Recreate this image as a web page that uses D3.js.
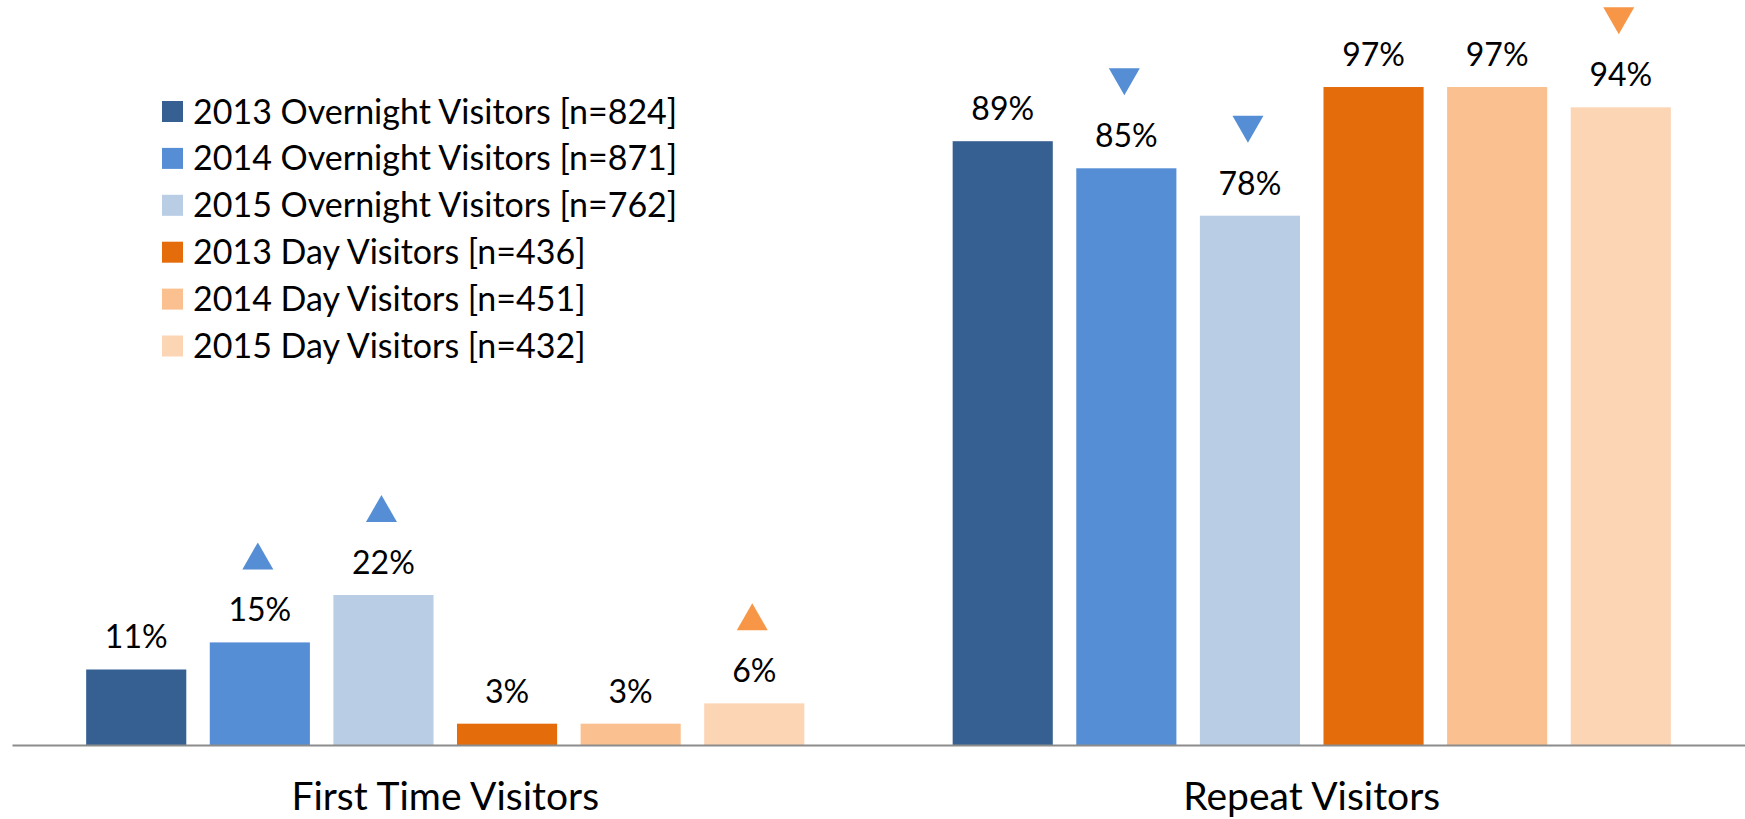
<!DOCTYPE html>
<html>
<head>
<meta charset="utf-8">
<script src="https://cdn.jsdelivr.net/npm/d3@7/dist/d3.min.js"></script>
<style>
  html, body { margin: 0; padding: 0; background: #ffffff; }
  svg { display: block; }
  text { font-family: Lato, "Open Sans", sans-serif; fill: #000; }
</style>
</head>
<body>
<svg id="chart" width="1745" height="819"></svg>
<script>
// Visitor type categories
const categories = ["First Time Visitors", "Repeat Visitors"];

// Survey groups (legend labels)
const seriesNames = [
  "2013 Overnight Visitors [n=824]",
  "2014 Overnight Visitors [n=871]",
  "2015 Overnight Visitors [n=762]",
  "2013 Day Visitors [n=436]",
  "2014 Day Visitors [n=451]",
  "2015 Day Visitors [n=432]"
];

// Share of visitors (%) per group
const firstTimeValues = [11, 15, 22, 3, 3, 6];
const repeatValues = [89, 85, 78, 97, 97, 94];

// Significant change markers versus the 2013 baseline
const firstTimeChange = [null, "up", "up", null, null, "up"];
const repeatChange = [null, "down", "down", null, null, "down"];

const seriesColors = ["#376092", "#558ED5", "#B9CDE5", "#E46C0A", "#FAC090", "#FCD5B5"];
const markerColors = ["#558ED5", "#558ED5", "#558ED5", "#F79646", "#F79646", "#F79646"];

const valuesByCategory = [firstTimeValues, repeatValues];
const changeByCategory = [firstTimeChange, repeatChange];

const data = categories.map((c, ci) => ({
  category: c,
  bars: seriesNames.map((s, si) => ({
    series: si,
    value: valuesByCategory[ci][si],
    change: changeByCategory[ci][si]
  }))
}));

const svg = d3.select("#chart");
const width = 1745, height = 819;
const margin = { left: 12, right: 0, baseline: 744 };

const x0 = d3.scaleBand()
  .domain(categories)
  .range([margin.left, width - margin.right])
  .paddingInner(0)
  .paddingOuter(0);

const x1 = d3.scaleBand()
  .domain(d3.range(seriesNames.length))
  .range([0, x0.bandwidth()])
  .paddingInner(0.19)
  .paddingOuter(0.6);

const y = d3.scaleLinear()
  .domain([0, 100])
  .range([margin.baseline, 66.7]);

// Bars
const groups = svg.append("g")
  .selectAll("g")
  .data(data)
  .join("g")
  .attr("transform", d => `translate(${x0(d.category)},0)`);

groups.selectAll("rect")
  .data(d => d.bars)
  .join("rect")
  .attr("x", d => x1(d.series))
  .attr("y", d => y(d.value))
  .attr("width", x1.bandwidth())
  .attr("height", d => y(0) - y(d.value) + 1)
  .attr("fill", d => seriesColors[d.series]);

// Value labels
const labelGap = 21;
groups.selectAll("text.value")
  .data(d => d.bars)
  .join("text")
  .attr("class", "value")
  .attr("x", d => x1(d.series) + x1.bandwidth() / 2)
  .attr("y", d => y(d.value) - labelGap)
  .attr("text-anchor", "middle")
  .style("font-size", "32px")
  .text(d => d3.format(".0%")(d.value / 100));

// Change markers (equilateral triangles above the labels)
const triW = 31, triH = 27, triGap = 52;
groups.selectAll("path.marker")
  .data(d => d.bars.filter(b => b.change))
  .join("path")
  .attr("class", "marker")
  .attr("fill", d => markerColors[d.series])
  .attr("d", d => {
    const cx = x1(d.series) + x1.bandwidth() / 2 - 2;
    const bottom = y(d.value) - labelGap - triGap;
    const top = bottom - triH;
    if (d.change === "up") {
      return `M${cx - triW / 2},${bottom}L${cx + triW / 2},${bottom}L${cx},${top}Z`;
    }
    return `M${cx - triW / 2},${top}L${cx + triW / 2},${top}L${cx},${bottom}Z`;
  });

// Category axis
const axis = svg.append("g")
  .attr("transform", `translate(0,${margin.baseline + 1})`)
  .call(d3.axisBottom(x0).tickSize(0).tickSizeOuter(0).tickPadding(37));

axis.select(".domain")
  .attr("stroke", "#8C8C8C")
  .attr("stroke-width", 2.2);

axis.selectAll(".tick text")
  .style("font-family", "Lato, 'Open Sans', sans-serif")
  .style("font-size", "39px")
  .attr("fill", "#000");

// Legend
const legend = svg.append("g")
  .attr("transform", "translate(162,101)");

const legendStep = 46.9;
const legendRows = legend.selectAll("g")
  .data(seriesNames)
  .join("g")
  .attr("transform", (d, i) => `translate(0,${i * legendStep})`);

legendRows.append("rect")
  .attr("width", 21)
  .attr("height", 21)
  .attr("fill", (d, i) => seriesColors[i]);

legendRows.append("text")
  .attr("x", 31)
  .attr("y", 22.5)
  .style("font-size", "34px")
  .text(d => d);
</script>
</body>
</html>
